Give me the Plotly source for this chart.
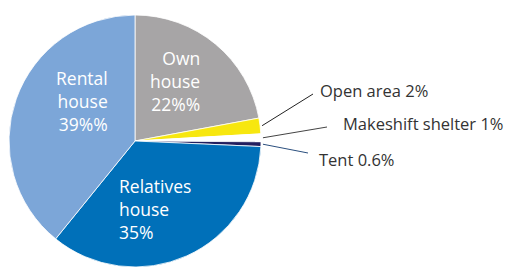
import math
import plotly.graph_objects as go

categories = ["Own house", "Open area", "Makeshift shelter", "Tent", "Relatives house", "Rental house"]
values = [22, 2, 1, 0.6, 35, 39]
colors = ["#A7A5A6", "#F7E70F", "#FFFFFF", "#221E5E", "#0070B9", "#7CA6D8"]

W, H = 512, 271
OFF = 8  # page body margin offset
CX, CY, R = 135, 141, 126
FONT = "Open Sans"

def px(x, y):
    return (x - OFF) / W, 1 - (y - OFF) / H

dx0, dy1 = px(CX - R, CY - R)
dx1, dy0 = px(CX + R, CY + R)

fig = go.Figure(go.Pie(
    labels=categories, values=values, sort=False, direction="clockwise", rotation=0,
    marker=dict(colors=colors, line=dict(color="white", width=0.8)),
    textinfo="none", hoverinfo="label+value", showlegend=False,
    domain=dict(x=[dx0, dx1], y=[dy0, dy1]),
))

annotations = []
def add_block(lines, x, y, align, color, size):
    xp, yp = px(x, y)
    annotations.append(dict(text="<br>".join(lines), x=xp, y=yp, xref="paper", yref="paper",
                            xanchor=align, yanchor="middle", align=align, showarrow=False,
                            font=dict(family=FONT, size=size, color=color)))

add_block(["Own", "house", "22%%"], 202, 81, "right", "white", 17.5)
add_block(["Rental", "house", "39%%"], 110, 101, "right", "white", 17.5)
add_block(["Relatives", "house", "35%"], 117, 209, "left", "white", 17.5)

# outside labels with leader lines from slice mid-angles
total = sum(values)
cum = 0
mids = {}
for c, v in zip(categories, values):
    mids[c] = (cum + v / 2) / total * 2 * math.pi
    cum += v

outside = [
    ("Open area", "Open area 2%", (313, 94), (318, 90), "#222222"),
    ("Makeshift shelter", "Makeshift shelter 1%", (327, 127), (341, 123), "#444444"),
    ("Tent", "Tent 0.6%", (308, 153), (317, 159), "#2B4F7E"),
]
shapes = []
for cat, label, end, tpos, lc in outside:
    a = mids[cat]
    sx = CX + (R + 2) * math.sin(a)
    sy = CY - (R + 2) * math.cos(a)
    x0, y0 = px(sx, sy)
    x1, y1 = px(*end)
    shapes.append(dict(type="line", xref="paper", yref="paper", x0=x0, y0=y0, x1=x1, y1=y1,
                       line=dict(color=lc, width=1)))
    xp, yp = px(*tpos)
    annotations.append(dict(text=label, x=xp, y=yp, xref="paper", yref="paper",
                            xanchor="left", yanchor="middle", showarrow=False,
                            font=dict(family=FONT, size=16.5, color="#333333")))

fig.update_layout(width=W, height=H, margin=dict(l=0, r=0, t=0, b=0),
                  paper_bgcolor="white", plot_bgcolor="white",
                  annotations=annotations, shapes=shapes)
fig.write_html("out.html")
